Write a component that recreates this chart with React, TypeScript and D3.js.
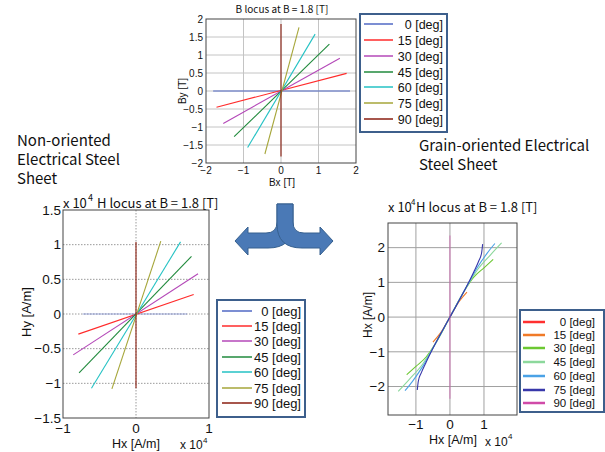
import React from 'react';
import * as d3 from 'd3';

type Pt = [number, number];

const angleLabels = ['0 [deg]', '15 [deg]', '30 [deg]', '45 [deg]', '60 [deg]', '75 [deg]', '90 [deg]'];

// B locus (top), [T]
const bLocus0: Pt[] = [[-1.81, 0], [1.84, 0]];
const bLocus15: Pt[] = [[-1.72, -0.45], [1.75, 0.49]];
const bLocus30: Pt[] = [[-1.54, -0.9], [1.57, 0.91]];
const bLocus45: Pt[] = [[-1.25, -1.27], [1.29, 1.3]];
const bLocus60: Pt[] = [[-0.89, -1.57], [0.91, 1.58]];
const bLocus75: Pt[] = [[-0.43, -1.75], [0.48, 1.77]];
const bLocus90: Pt[] = [[0, -1.82], [0, 1.86]];
const bLocusSeries = [bLocus0, bLocus15, bLocus30, bLocus45, bLocus60, bLocus75, bLocus90];

// H locus, non-oriented (x 10^4 A/m)
const hNon0: Pt[] = [[-0.73, 0], [0.7, 0]];
const hNon15: Pt[] = [[-0.79, -0.29], [0.79, 0.28]];
const hNon30: Pt[] = [[-0.86, -0.59], [0.85, 0.58]];
const hNon45: Pt[] = [[-0.78, -0.85], [0.76, 0.83]];
const hNon60: Pt[] = [[-0.61, -1.07], [0.61, 1.04]];
const hNon75: Pt[] = [[-0.33, -1.08], [0.34, 1.05]];
const hNon90: Pt[] = [[0, -1.07], [0, 1.04]];
const hNonSeries = [hNon0, hNon15, hNon30, hNon45, hNon60, hNon75, hNon90];

// H locus, grain-oriented (x 10^4 A/m)
const hGo0: Pt[] = [[-0.08, -0.14], [0.08, 0.14]];
const hGo15: Pt[] = [[-0.5, -0.72], [-0.25, -0.42], [0, 0], [0.25, 0.42], [0.5, 0.72]];
const hGo30: Pt[] = [[-1.27, -1.66], [-1.0, -1.42], [-0.7, -1.15], [-0.45, -0.8], [0, 0], [0.45, 0.8], [0.7, 1.15], [1.0, 1.42], [1.27, 1.66]];
const hGo45: Pt[] = [[-1.52, -2.14], [-1.2, -1.8], [-0.8, -1.35], [-0.5, -0.88], [0, 0], [0.5, 0.88], [0.8, 1.35], [1.2, 1.8], [1.52, 2.14]];
const hGo60: Pt[] = [[-1.32, -2.12], [-1.1, -1.85], [-0.8, -1.42], [-0.5, -0.9], [0, 0], [0.5, 0.9], [0.8, 1.42], [1.1, 1.85], [1.32, 2.12]];
const hGo75: Pt[] = [[-0.96, -2.1], [-0.93, -1.85], [-0.84, -1.6], [-0.7, -1.3], [-0.5, -0.9], [0, 0], [0.5, 0.9], [0.7, 1.3], [0.84, 1.6], [0.93, 1.85], [0.96, 2.1]];
const hGo90: Pt[] = [[0, -2.35], [0, 2.35]];
const hGoSeries = [hGo0, hGo15, hGo30, hGo45, hGo60, hGo75, hGo90];

const bTicksX = [-2, -1, 0, 1, 2];
const bTicksY = [-2, -1.5, -1, -0.5, 0, 0.5, 1, 1.5, 2];
const hNonTicksX = [-1, 0, 1];
const hNonTicksY = [-1.5, -1, -0.5, 0, 0.5, 1, 1.5];
const hGoTicksX = [-1, 0, 1];
const hGoTicksY = [-2, -1, 0, 1, 2];

const colorsA = ['#5068c4', '#ff2b2b', '#b448b8', '#208a3c', '#25c2c4', '#a6a63a', '#8a1e10'];
const colorsB = ['#ff3030', '#f07a28', '#6cc832', '#8cd89c', '#4aa2e6', '#3838aa', '#d04aa8'];

const FONT = '"Noto Sans CJK JP", "Noto Sans", sans-serif';
const LFONT = '"Liberation Sans", Arial, sans-serif';
const fmt = (d: number) => (d < 0 ? '\u2212' + Math.abs(d) : String(d));

interface PanelProps {
  box: { l: number; r: number; t: number; b: number };
  xDomain: [number, number];
  yDomain: [number, number];
  xTicks: number[];
  yTicks: number[];
  series: Pt[][];
  colors: string[];
  gridColor: string;
  gridDash?: string;
  tickSize: number;
  xTickBaseline: number;
  yTickRight: number;
  lineOpacity?: number[];
}

function Panel(p: PanelProps) {
  const x = d3.scaleLinear().domain(p.xDomain).range([p.box.l, p.box.r]);
  const y = d3.scaleLinear().domain(p.yDomain).range([p.box.b, p.box.t]);
  const line = d3.line<Pt>().x((d) => x(d[0])).y((d) => y(d[1])).curve(d3.curveMonotoneX);
  const straight = d3.line<Pt>().x((d) => x(d[0])).y((d) => y(d[1]));
  return (
    <g>
      <rect x={p.box.l} y={p.box.t} width={p.box.r - p.box.l} height={p.box.b - p.box.t} fill="#fff" />
      {p.xTicks.filter((t) => x(t) > p.box.l + 1 && x(t) < p.box.r - 1).map((t) => (
        <line key={'gx' + t} x1={x(t)} x2={x(t)} y1={p.box.t} y2={p.box.b} stroke={p.gridColor} strokeDasharray={p.gridDash} strokeWidth={1} />
      ))}
      {p.yTicks.filter((t) => y(t) > p.box.t + 1 && y(t) < p.box.b - 1).map((t) => (
        <line key={'gy' + t} x1={p.box.l} x2={p.box.r} y1={y(t)} y2={y(t)} stroke={p.gridColor} strokeDasharray={p.gridDash} strokeWidth={1} />
      ))}
      {p.series.map((s, i) => (
        <path key={'s' + i} d={(s.some((d) => d[0] !== s[0][0]) ? line(s) : straight(s)) || ''} fill="none" stroke={p.colors[i]} strokeWidth={1.1} strokeOpacity={p.lineOpacity ? p.lineOpacity[i] : 1} />
      ))}
      <rect x={p.box.l} y={p.box.t} width={p.box.r - p.box.l} height={p.box.b - p.box.t} fill="none" stroke="#444" strokeWidth={1} />
      {p.xTicks.map((t) => (
        <text key={'tx' + t} x={x(t)} y={p.xTickBaseline} fontSize={p.tickSize} textAnchor="middle" fontFamily={LFONT} fill="#111">{fmt(t)}</text>
      ))}
      {p.yTicks.map((t) => (
        <text key={'ty' + t} x={p.yTickRight} y={y(t)} dy="0.35em" fontSize={p.tickSize} textAnchor="end" fontFamily={LFONT} fill="#111">{fmt(t)}</text>
      ))}
    </g>
  );
}

interface LegendProps {
  box: { l: number; r: number; t: number; b: number };
  rows: number[];
  lineX: [number, number];
  textRight: number;
  colors: string[];
  fontSize: number;
  lineWidth: number;
}

function Legend(p: LegendProps) {
  return (
    <g>
      <rect x={p.box.l} y={p.box.t} width={p.box.r - p.box.l} height={p.box.b - p.box.t} fill="#fff" stroke="#3d5f8c" strokeWidth={2} />
      {angleLabels.map((lab, i) => (
        <g key={lab}>
          <line x1={p.lineX[0]} x2={p.lineX[1]} y1={p.rows[i]} y2={p.rows[i]} stroke={p.colors[i]} strokeWidth={p.lineWidth} />
          <text x={p.textRight} y={p.rows[i]} dy="0.36em" fontSize={p.fontSize} textAnchor="end" fontFamily={LFONT} fill="#111">{lab}</text>
        </g>
      ))}
    </g>
  );
}

export default function App() {
  return (
    <svg width={605} height={452} style={{ position: 'absolute', left: 0, top: 0, background: '#fff' }} fontFamily={FONT}>
      <rect x={0} y={0} width={605} height={452} fill="#fff" />

      {/* Top: B locus */}
      <Panel box={{ l: 206, r: 356, t: 19, b: 163 }} xDomain={[-2, 2]} yDomain={[-2, 2]} xTicks={bTicksX} yTicks={bTicksY}
        series={bLocusSeries} colors={colorsA} gridColor="#c4c4c4" tickSize={10} xTickBaseline={174} yTickRight={203} />
      <text x={282} y={13} fontSize={10} textAnchor="middle" fill="#111">B locus at B = 1.8  [T]</text>
      <text x={282} y={186} fontSize={10} textAnchor="middle" fontFamily={LFONT} fill="#111">Bx  [T]</text>
      <text transform="translate(186,91) rotate(-90)" fontSize={10} textAnchor="middle" fontFamily={LFONT} fill="#111">By  [T]</text>
      <Legend box={{ l: 360, r: 447, t: 14, b: 132 }} rows={[24, 40, 56, 72, 87, 103, 119]} lineX={[364, 393]} textRight={443}
        colors={colorsA} fontSize={12.5} lineWidth={1.5} />

      {/* Captions */}
      <text x={17} y={146} fontSize={15} fill="#111">Non-oriented</text>
      <text x={17} y={165} fontSize={15} fill="#111">Electrical Steel</text>
      <text x={17} y={184} fontSize={15} fill="#111">Sheet</text>
      <text x={419} y={151} fontSize={15} fill="#111">Grain-oriented Electrical</text>
      <text x={419} y={170} fontSize={15} fill="#111">Steel Sheet</text>

      {/* Arrow */}
      <path d="M277,204 L293,204 L293,224 Q293,248 268,248 L248,248 L248,255 L235,241 L248,227 L248,233 L266,233 Q277,233 277,222 Z" fill="#4a79b6" stroke="#36608f" strokeWidth={1} />
      <path d="M293,204 L277,204 L277,224 Q277,248 302,248 L320,248 L320,255 L333,241 L320,227 L320,233 L304,233 Q293,233 293,222 Z" fill="#4a79b6" stroke="#36608f" strokeWidth={1} />

      {/* Bottom left: H locus non-oriented */}
      <Panel box={{ l: 63, r: 209, t: 210, b: 418 }} xDomain={[-1, 1]} yDomain={[-1.5, 1.5]} xTicks={hNonTicksX} yTicks={hNonTicksY}
        series={hNonSeries} colors={colorsA} gridColor="#9a9a9a" gridDash="1.5,1.5" tickSize={13.5} xTickBaseline={433} yTickRight={61}
        lineOpacity={[0.55, 1, 1, 1, 1, 1, 1]} />
      <text x={63} y={208} fontSize={13} fill="#111">x 10</text>
      <text x={88} y={201} fontSize={9} fill="#111">4</text>
      <text x={97} y={208} fontSize={13} fill="#111">H locus at B = 1.8  [T]</text>
      <text x={136} y={448} fontSize={12.5} textAnchor="middle" fontFamily={LFONT} fill="#111">Hx  [A/m]</text>
      <text x={180} y={449} fontSize={12} fontFamily={LFONT} fill="#111">x 10</text>
      <text x={203} y={443} fontSize={8} fontFamily={LFONT} fill="#111">4</text>
      <text transform="translate(31,312) rotate(-90)" fontSize={13} textAnchor="middle" fontFamily={LFONT} fill="#111">Hy  [A/m]</text>
      <Legend box={{ l: 217, r: 305, t: 300, b: 417 }} rows={[311, 326, 341, 357, 372, 388, 403]} lineX={[222, 252]} textRight={301}
        colors={colorsA} fontSize={13} lineWidth={1.5} />

      {/* Bottom right: H locus grain-oriented */}
      <Panel box={{ l: 388, r: 517, t: 223, b: 415 }} xDomain={[-1.82, 1.97]} yDomain={[-2.82, 2.71]} xTicks={hGoTicksX} yTicks={hGoTicksY}
        series={hGoSeries} colors={colorsB} gridColor="#a0a0a0" tickSize={13.5} xTickBaseline={429} yTickRight={385}
        lineOpacity={[1, 1, 1, 1, 1, 1, 0.6]} />
      <text x={388} y={212} fontSize={13} fill="#111">x 10</text>
      <text x={411} y={205} fontSize={8} fill="#111">4</text>
      <text x={416} y={212} fontSize={13} fill="#111">H locus at B = 1.8  [T]</text>
      <text x={453} y={444} fontSize={12.5} textAnchor="middle" fontFamily={LFONT} fill="#111">Hx  [A/m]</text>
      <text x={485} y={446} fontSize={12} fontFamily={LFONT} fill="#111">x 10</text>
      <text x={508} y={439} fontSize={8} fontFamily={LFONT} fill="#111">4</text>
      <text transform="translate(372,315) rotate(-90)" fontSize={12} textAnchor="middle" fontFamily={LFONT} fill="#111">Hx  [A/m]</text>
      <Legend box={{ l: 520, r: 604, t: 310, b: 412 }} rows={[322, 335, 348, 362, 376, 390, 403]} lineX={[523, 545]} textRight={595}
        colors={colorsB} fontSize={11.5} lineWidth={2.5} />
    </svg>
  );
}
